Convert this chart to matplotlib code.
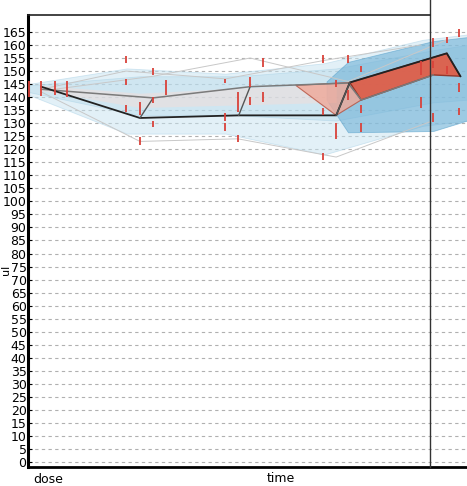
import numpy as np
import matplotlib
matplotlib.use("Agg")
import matplotlib.pyplot as plt

# y axis ticks
yticks = list(range(0, 170, 5))

# bands (time, upper, lower)
band_wide_t = [0, 22.5, 45, 67.5, 90, 100]
band_wide_hi = [145, 151, 149, 153, 162, 164]
band_wide_lo = [141, 126, 126, 118, 129, 131]

band_mid_t = [0, 25.5, 48, 70.2, 92.3, 100]
band_mid_hi = [144.5, 148, 148, 151, 158, 160]
band_mid_lo = [142, 133, 133, 131, 138, 139]

band_dark_t = [68, 72.9, 92.3, 100]
band_dark_hi = [146, 153.5, 161.5, 163]
band_dark_lo = [139, 126.5, 127, 131]

pink_t = [3, 25.5, 48, 70.2]
pink_hi = [144.5, 141.5, 143.5, 145]
pink_lo = [142.5, 136, 137, 138]

# red wedge and red band outlines
wedge_t = [61, 73.3, 75.9, 70.2]
wedge_y = [144.5, 145.6, 138.9, 133]
redband_t = [73.3, 95.4, 98.5, 92.3, 75.9]
redband_y = [145.6, 156.8, 148.0, 148.5, 138.9]

# mean lines
line_a_t = [3, 25.5, 48, 70.2, 73.3, 95.4, 98.5]
line_a_y = [144, 132, 133, 133, 145.6, 156.8, 148.0]
line_b_t = [3, 28.5, 50.6, 72.9, 75.9, 92.3]
line_b_y = [143, 139.7, 144, 145.4, 138.9, 148.5]
diag_t = [25.5, 28.5, np.nan, 48, 50.6, np.nan, 70.2, 73.3]
diag_y = [132, 139.7, np.nan, 133, 144, np.nan, 133, 145.6]
faint_t = [[3, 22.3, 45, 67.2, 89.5], [3, 25.5, 47.8, 70.2, 92.3], [6, 28.5, 50.6, 72.9, 95.4]]
faint_y = [[143, 150, 147, 154, 160], [142, 123, 124, 117, 131], [143, 148, 155, 146, 162]]

# error bars (time, low, high)
err_t = [0.2, 3, 6.2, 8.9, 22.3, 22.3, 22.3, 25.5, 25.5, 28.5, 28.5, 28.5,
         31.4, 44.9, 44.9, 44.9, 47.8, 47.8, 50.6, 50.6, 53.5, 53.5,
         67.2, 67.2, 67.2, 70.2, 70.2, 72.9, 72.9, 75.9, 75.9, 75.9,
         89.5, 89.5, 92.3, 92.3, 92.3, 95.4, 95.4, 98.2, 98.2, 98.2]
err_lo = [140, 140.5, 141, 140, 153, 144.7, 134.3, 133, 121.6, 148.6, 137.8, 128.5,
          140.8, 145.4, 131, 127, 134.3, 122.8, 144, 137, 151.6, 138,
          153, 133, 116, 144, 124, 153, 139, 149.6, 134, 126.6,
          148.6, 136, 159.2, 151, 130.5, 160.8, 149, 163, 142, 133]
err_hi = [146.2, 146, 146, 146, 155.8, 147, 137, 138, 124.7, 151, 140, 131,
          146.6, 147, 134, 130, 142, 125.5, 147.7, 140, 155, 142,
          156, 136, 118.5, 146.6, 130, 156, 142.7, 152, 137, 130,
          154, 140, 162.7, 154, 134, 163, 152, 166, 145.4, 136]

W, H = 467, 486
fig = plt.figure(figsize=(W / 100, H / 100), dpi=100)
ax = fig.add_axes([28 / W, 19 / H, 1 - 28 / W, 452 / H])
ax.set_xlim(0, 100)
ax.set_ylim(-1.9, 171.5)

for v in yticks:
    ax.axhline(v, color="#b0b0b0", lw=0.8, ls=(0, (3, 3)), zorder=0)

ax.fill_between(band_wide_t, band_wide_lo, band_wide_hi, color="#c6e3f0", alpha=0.5, lw=0.6, edgecolor="#a8d0e6", zorder=1)
ax.fill_between(band_mid_t, band_mid_lo, band_mid_hi, color="#b3d8ea", alpha=0.4, lw=0.6, edgecolor="#9ccbe2", zorder=1)
ax.fill_between(band_dark_t, band_dark_lo, band_dark_hi, color="#6fb1d6", alpha=0.6, lw=0.6, edgecolor="#5aa3cc", zorder=1)
ax.fill_between(pink_t, pink_lo, pink_hi, color="#f7dcd6", alpha=0.45, lw=0, zorder=1)

ax.fill(wedge_t, wedge_y, color="#f0a898", alpha=0.8, lw=0.8, edgecolor="#b5503e", zorder=2)
ax.fill(redband_t, redband_y, color="#e25a42", alpha=0.9, lw=1.0, edgecolor="#8e2f22", zorder=3)

for ft, fy in zip(faint_t, faint_y):
    ax.plot(ft, fy, color="#c8c8c8", lw=0.7, zorder=2)
ax.plot(line_b_t, line_b_y, color="#7a7a7a", lw=1.1, zorder=4)
ax.plot(line_a_t, line_a_y, color="#222222", lw=1.3, zorder=4)
ax.plot(diag_t, diag_y, color="#555555", lw=1.0, zorder=4)

ax.vlines(err_t, err_lo, err_hi, color="#d9423a", lw=1.3, zorder=5)

# divider and top border
ax.plot([91.6, 91.6], [-1.9, 177.3], color="#333333", lw=1.0, clip_on=False, zorder=6)
ax.plot([0, 91.6], [171.5, 171.5], color="#222222", lw=1.2, clip_on=False, zorder=6)

for s in ["top", "right"]:
    ax.spines[s].set_visible(False)
ax.spines["left"].set_linewidth(2.2)
ax.spines["bottom"].set_linewidth(2.0)

ax.set_yticks(yticks)
ax.set_yticklabels([str(v) for v in yticks], fontsize=9, family=["Liberation Sans Narrow", "DejaVu Sans"])
ax.tick_params(axis="y", direction="in", length=3, pad=1)
ax.set_xticks([])

fig.text(281 / W, 1 - 478 / H, "time", ha="center", va="center", fontsize=9)
fig.text(48 / W, 1 - 479 / H, "dose", ha="center", va="center", fontsize=9)
fig.text(6 / W, 1 - 270 / H, "ul", ha="center", va="center", fontsize=8, rotation=90)

fig.savefig("out.png", dpi=100)
